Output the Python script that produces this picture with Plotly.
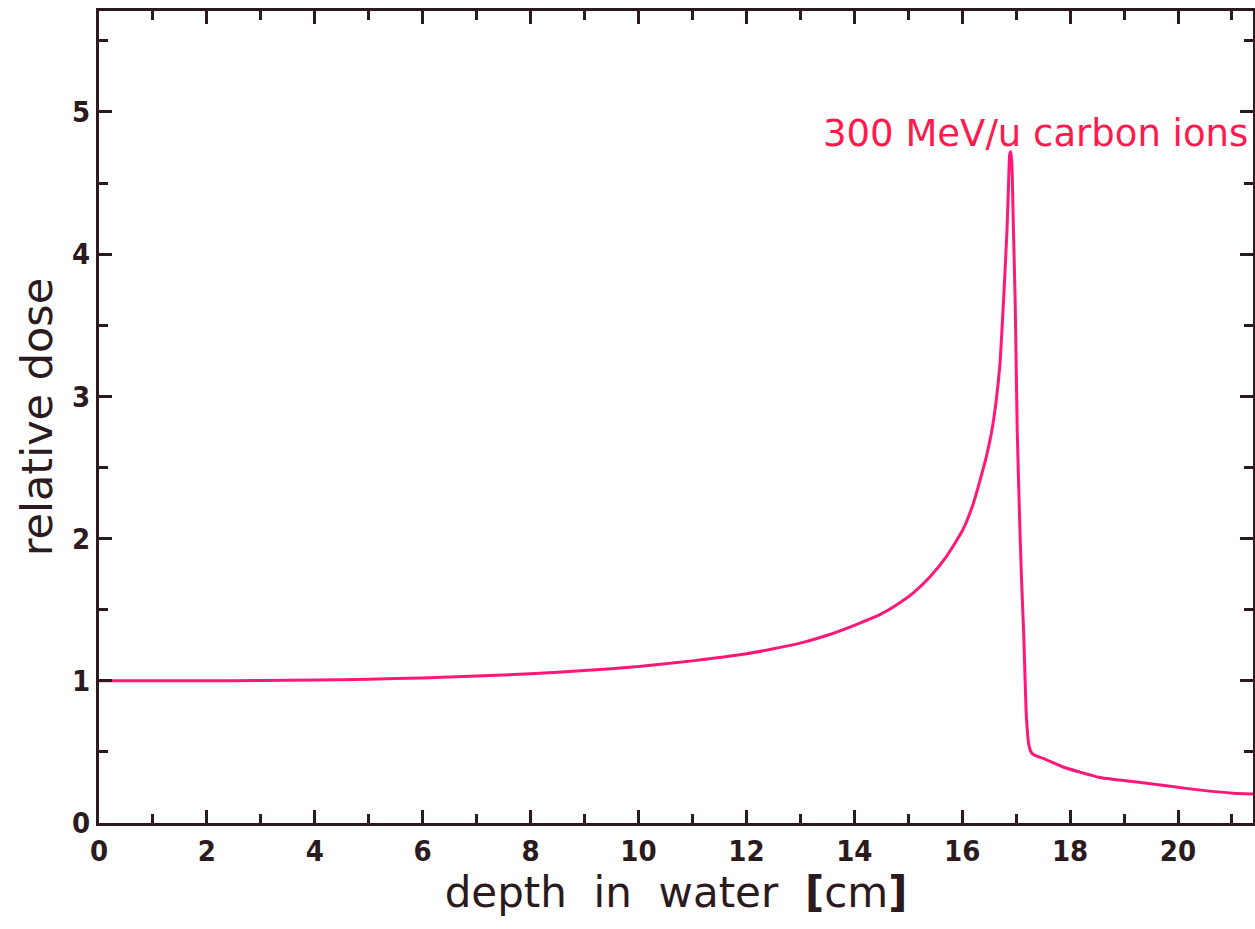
import plotly.graph_objects as go

# depth in water [cm] and relative dose
depth = [0, 2, 3, 4, 5, 6, 7, 8, 9, 10, 11, 12, 12.5, 13, 13.5, 14, 14.5, 14.85,
         15.1, 15.4, 15.7, 16.01, 16.2, 16.33, 16.45, 16.55, 16.63, 16.70, 16.77,
         16.83, 16.86, 16.88, 16.90, 16.92, 16.95, 16.98, 17.0, 17.02, 17.07,
         17.10, 17.14, 17.19, 17.24, 17.29, 17.38, 17.5, 17.87, 18.55, 19.42,
         20.22, 21.02, 21.4]
dose = [1.0, 1.0, 1.002, 1.005, 1.011, 1.02, 1.033, 1.05, 1.072, 1.10, 1.14, 1.19,
        1.225, 1.265, 1.32, 1.39, 1.47, 1.55, 1.62, 1.73, 1.87, 2.06, 2.24, 2.41,
        2.58, 2.76, 2.97, 3.23, 3.70, 4.17, 4.50, 4.70, 4.72, 4.64, 4.17, 3.70,
        3.23, 2.76, 2.06, 1.71, 1.33, 0.745, 0.54, 0.49, 0.47, 0.455, 0.394, 0.32,
        0.28, 0.24, 0.21, 0.204]

x_ticks = [0, 2, 4, 6, 8, 10, 12, 14, 16, 18, 20]
y_ticks = [0, 1, 2, 3, 4, 5]
label_text = "300 MeV/u carbon ions"
label_pos = (16.88, 4.72)

AX = "#2b1a1e"
LINE = "#ff1877"
TXT = "#ff1a4d"

fig = go.Figure()
fig.add_trace(go.Scatter(x=depth, y=dose, mode="lines",
                         line=dict(color=LINE, width=3, shape="spline",
                                   smoothing=0.5),
                         showlegend=False, hoverinfo="skip"))

fig.add_annotation(x=label_pos[0], y=label_pos[1], xref="x", yref="y",
                   text=label_text, showarrow=False, xanchor="left",
                   yanchor="bottom", xshift=-189, yshift=-5,
                   font=dict(family="DejaVu Sans", size=37, color=TXT))

tickfont = dict(family="DejaVu Sans Condensed, DejaVu Sans", size=29,
                color=AX, weight="bold")

fig.update_xaxes(range=[0, 21.39], tickvals=x_ticks, ticks="inside",
                 ticklen=13, tickwidth=2.5, tickcolor=AX, showline=True,
                 linecolor=AX, linewidth=3, mirror="allticks", showgrid=False,
                 zeroline=False, tickfont=tickfont, automargin=False,
                 minor=dict(dtick=1, tick0=0, ticks="inside", ticklen=9,
                            tickwidth=2.5, tickcolor=AX, showgrid=False),
                 title=dict(text="depth\u00a0 in\u00a0 water\u00a0 <b>[</b>cm<b>]</b>",
                            font=dict(family="DejaVu Sans", size=42, color=AX),
                            standoff=8))
fig.update_yaxes(range=[0, 5.71], tickvals=y_ticks, ticks="inside",
                 ticklen=13, tickwidth=2.5, tickcolor=AX, showline=True,
                 linecolor=AX, linewidth=3, mirror="allticks", showgrid=False,
                 zeroline=False, tickfont=tickfont, automargin=False,
                 minor=dict(dtick=0.5, tick0=0, ticks="inside", ticklen=9,
                            tickwidth=2.5, tickcolor=AX, showgrid=False),
                 title=dict(text="relative dose",
                            font=dict(family="DejaVu Sans", size=43, color=AX),
                            standoff=6))

fig.update_layout(width=1255, height=929, plot_bgcolor="white",
                  paper_bgcolor="white",
                  margin=dict(l=99, r=2, t=11, b=106))

# remove the default page margin so the figure fills the window exactly
fig.write_html("out.html", config={"displayModeBar": False},
               post_script="document.body.style.margin='0';"
                           "document.body.style.overflow='hidden';")
